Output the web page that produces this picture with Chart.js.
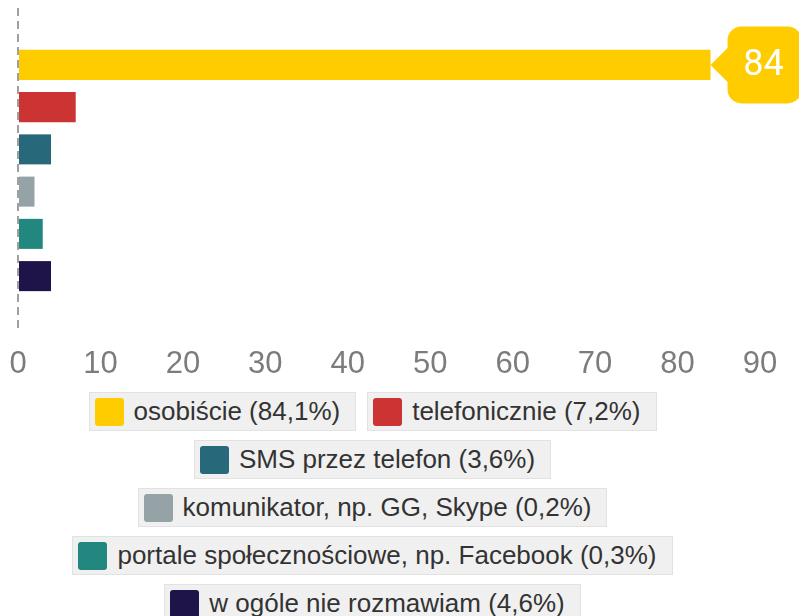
<!DOCTYPE html>
<html><head><meta charset="utf-8">
<script src="https://cdn.jsdelivr.net/npm/chart.js@4/dist/chart.umd.min.js"></script>
<style>
html,body{margin:0;padding:0;background:#fff;width:799px;height:616px;overflow:hidden}
#wrap{position:absolute;left:0;top:0;width:799px;height:388px}
#legend{position:absolute;left:0;top:392px;width:745px;display:flex;flex-wrap:wrap;justify-content:center;column-gap:11px;row-gap:9px;font-family:"Liberation Sans",Arial,sans-serif}
.item{box-sizing:border-box;height:39px;display:flex;align-items:center;background:#f0f0f0;border:1px solid #e2e2e2;padding:0 15px 0 5px;font-size:26px;color:#333;white-space:nowrap}
.sw{width:29px;height:28px;border-radius:3px;margin-right:10px;flex:none}
</style></head><body>
<div id="wrap"><canvas id="c" width="799" height="388" style="width:799px;height:388px"></canvas></div>
<div id="legend"></div>
<script>
const categories = ['osobiście', 'telefonicznie', 'SMS przez telefon', 'komunikator, np. GG, Skype', 'portale społecznościowe, np. Facebook', 'w ogóle nie rozmawiam'];
const values = [84, 7, 4, 2, 3, 4];
const shares = ['84,1%', '7,2%', '3,6%', '0,2%', '0,3%', '4,6%'];
const colors = ['#FFCC00', '#CC3333', '#27687A', '#95A3A6', '#22887F', '#1F1449'];
const xTickMin = 0, xTickMax = 90, xTickStep = 10;

const legend = document.getElementById('legend');
categories.forEach((c, i) => {
  const it = document.createElement('div'); it.className = 'item';
  const sw = document.createElement('span'); sw.className = 'sw'; sw.style.background = colors[i];
  const tx = document.createElement('span'); tx.textContent = c + ' (' + shares[i] + ')';
  it.appendChild(sw); it.appendChild(tx); legend.appendChild(it);
});

const callout = {
  id: 'callout',
  afterDatasetsDraw(chart) {
    const bar = chart.getDatasetMeta(0).data[0];
    if (!bar) return;
    const ctx = chart.ctx;
    const x = bar.x, y = bar.y;
    const pw = 17, ph = 17, w = 74, h = 77, r = 14;
    const bx = x + pw, top = y - h / 2, bot = y + h / 2, right = bx + w;
    ctx.save();
    ctx.beginPath();
    ctx.moveTo(x, y);
    ctx.lineTo(bx, y - ph);
    ctx.lineTo(bx, top + r);
    ctx.arcTo(bx, top, bx + r, top, r);
    ctx.lineTo(right - r, top);
    ctx.arcTo(right, top, right, top + r, r);
    ctx.lineTo(right, bot - r);
    ctx.arcTo(right, bot, right - r, bot, r);
    ctx.lineTo(bx + r, bot);
    ctx.arcTo(bx, bot, bx, bot - r, r);
    ctx.lineTo(bx, y + ph);
    ctx.closePath();
    ctx.fillStyle = colors[0];
    ctx.fill();
    ctx.fillStyle = '#fff';
    ctx.font = '36px Roboto';
    ctx.textAlign = 'center';
    ctx.textBaseline = 'middle';
    ctx.fillText(String(Math.round(values[0])), bx + w / 2 - 1, y + 1);
    ctx.restore();
  }
};

new Chart(document.getElementById('c'), {
  type: 'bar',
  data: {
    labels: [''],
    datasets: categories.map((c, i) => ({
      label: c, data: [values[i]], backgroundColor: colors[i],
      barPercentage: 0.711, categoryPercentage: 0.78
    }))
  },
  options: {
    indexAxis: 'y', responsive: false, animation: false,
    layout: { padding: { left: 18, right: 39, top: 8, bottom: 0 } },
    plugins: { legend: { display: false }, tooltip: { enabled: false } },
    scales: {
      x: {
        type: 'linear', min: xTickMin, max: xTickMax,
        ticks: { stepSize: xTickStep, color: '#7c7c7c', padding: 13, font: { family: 'Liberation Sans', size: 31 } },
        grid: { drawTicks: false, z: 1, color: '#a0a0a0', lineWidth: (ctx) => (ctx.tick && ctx.tick.value === 0 ? 2 : 0) },
        border: { display: false, dash: [8, 5] },
        afterFit: (s) => { s.height = 55; s.paddingLeft = 0; s.paddingRight = 0; }
      },
      y: { display: false }
    }
  },
  plugins: [callout]
});
</script>
</body></html>
